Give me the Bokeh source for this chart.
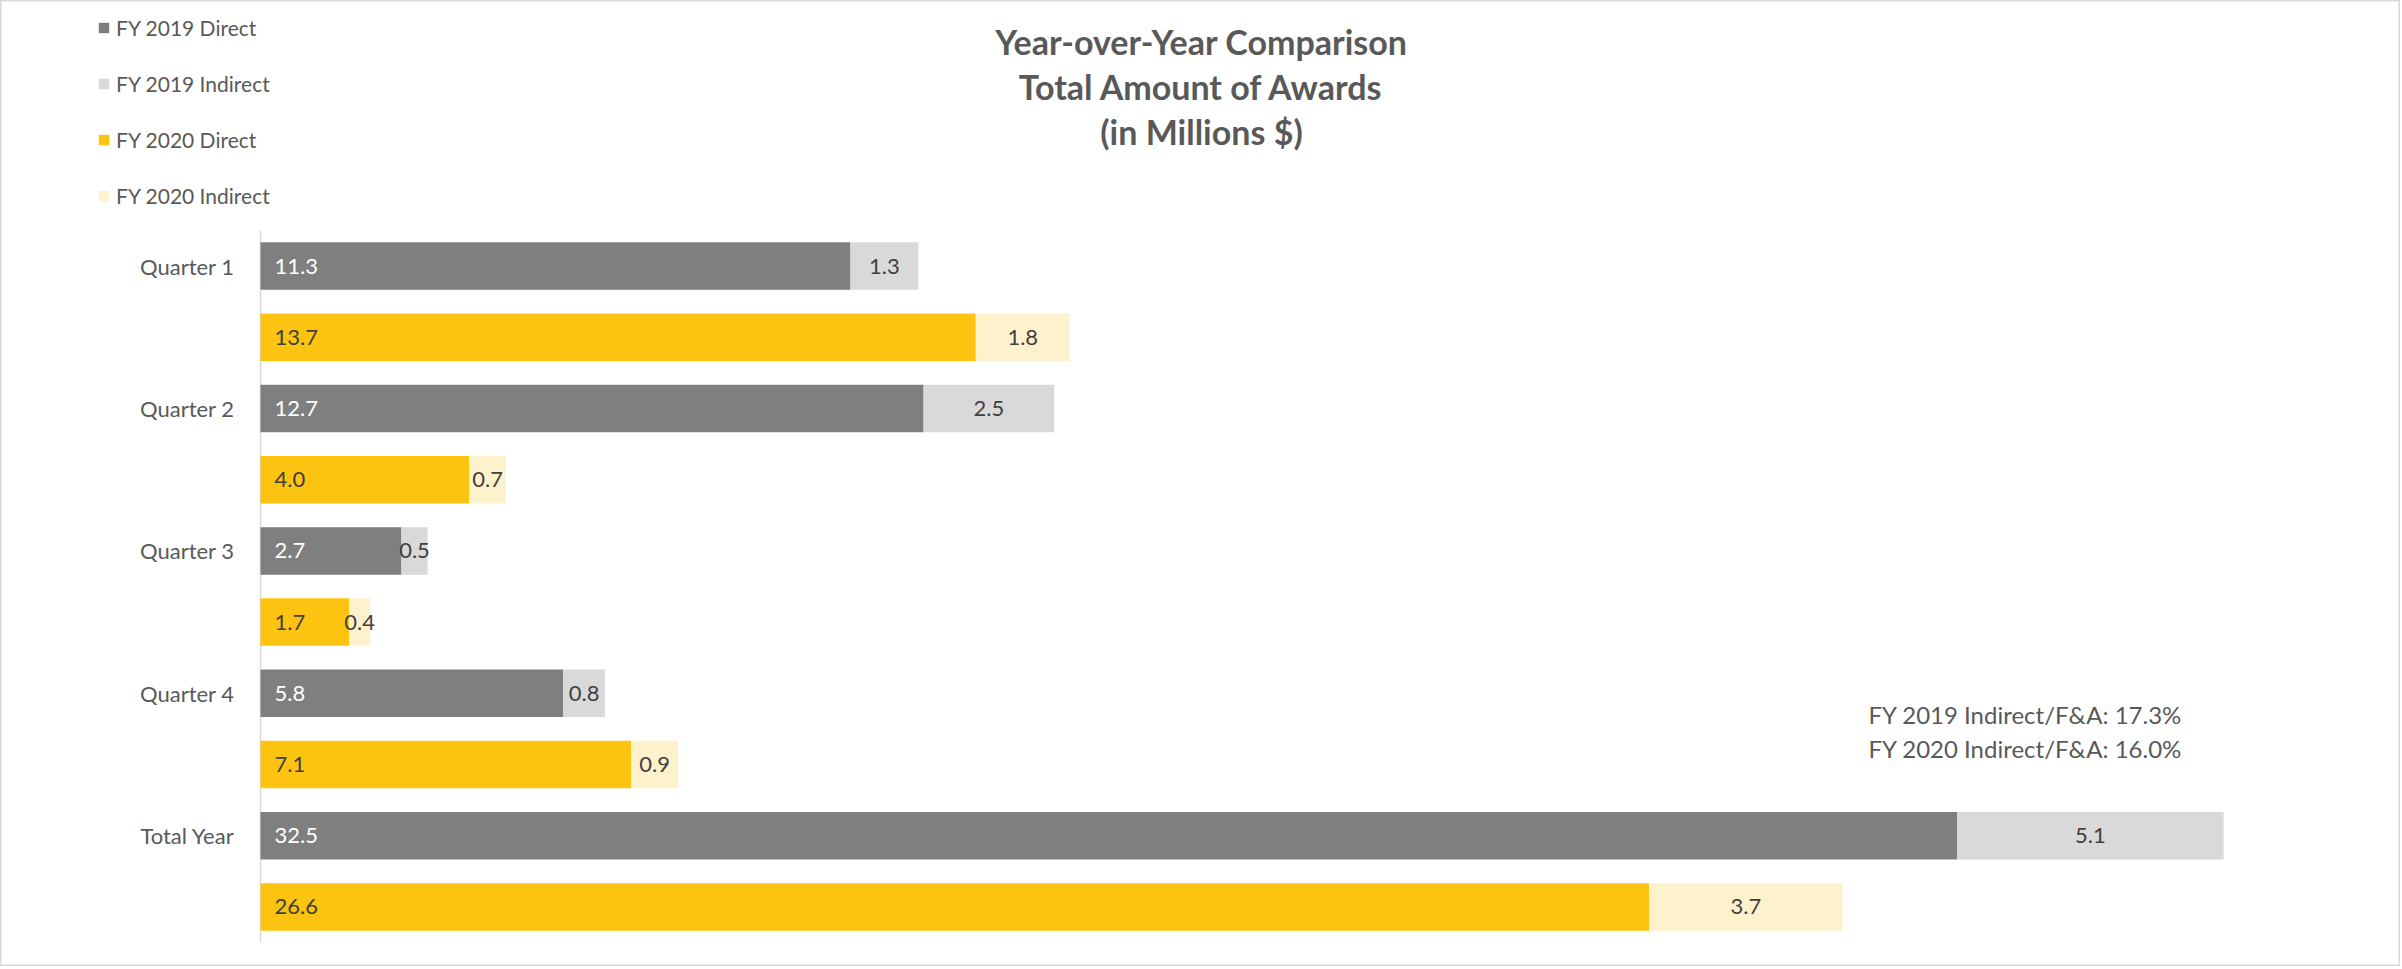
from bokeh.plotting import figure
from bokeh.models import ColumnDataSource, Range1d, Legend, LegendItem, Label
from bokeh.core.properties import value
from bokeh.embed import file_html
from bokeh.resources import INLINE

categories = ["Quarter 1", "Quarter 2", "Quarter 3", "Quarter 4", "Total Year"]
fy2019_direct = [11.3, 12.7, 2.7, 5.8, 32.5]
fy2019_indirect = [1.3, 2.5, 0.5, 0.8, 5.1]
fy2020_direct = [13.7, 4.0, 1.7, 7.1, 26.6]
fy2020_indirect = [1.8, 0.7, 0.4, 0.9, 3.7]
title_lines = ["Year-over-Year Comparison", "Total Amount of Awards", "(in Millions $)"]
notes = ["FY 2019 Indirect/F&A: 17.3%", "FY 2020 Indirect/F&A: 16.0%"]

C19D, C19I, C20D, C20I = "#7f7f7f", "#d9d9d9", "#fcc410", "#fef2cc"
TXT = "#595959"
FONT = "Lato"

n = len(categories)
nrows = 2 * n
y19 = [nrows - (2 * i + 0.5) for i in range(n)]
y20 = [nrows - (2 * i + 1.5) for i in range(n)]

def src(y, d, ind):
    return ColumnDataSource(dict(
        y=y, d=d, ind=ind,
        tot=[a + b for a, b in zip(d, ind)],
        mid=[a + b / 2 for a, b in zip(d, ind)],
        dlab=[f"{v:.1f}" for v in d],
        ilab=[f"{v:.1f}" for v in ind],
    ))

s19 = src(y19, fy2019_direct, fy2019_indirect)
s20 = src(y20, fy2020_direct, fy2020_indirect)
scat = ColumnDataSource(dict(y=y19, name=categories))

W, H = 2400, 966
X0, PXU = 260, 52.21      # axis pixel, px per unit
YT, YB = 230, 942         # axis top / bottom pixels
PYU = (YB - YT) / nrows
p = figure(width=W, height=H, output_backend="svg", toolbar_location=None,
           x_range=Range1d(-X0 / PXU, (W - X0) / PXU),
           y_range=Range1d(-(H - YB) / PYU, nrows + YT / PYU),
           min_border=0)
p.xaxis.visible = False
p.yaxis.visible = False
p.xgrid.visible = False
p.ygrid.visible = False
p.outline_line_color = "#d9d9d9"
p.outline_line_width = 2
p.background_fill_color = "white"
p.border_fill_color = "white"

# value axis line
p.segment(x0=0, y0=0, x1=0, y1=nrows, line_color="#d9d9d9", line_width=1.5)

BH = 0.667
r19d = p.hbar(y="y", left=0, right="d", height=BH, source=s19, fill_color=C19D, line_color=None)
r19i = p.hbar(y="y", left="d", right="tot", height=BH, source=s19, fill_color=C19I, line_color=None)
r20d = p.hbar(y="y", left=0, right="d", height=BH, source=s20, fill_color=C20D, line_color=None)
r20i = p.hbar(y="y", left="d", right="tot", height=BH, source=s20, fill_color=C20I, line_color=None)

common = dict(text_font=value(FONT), text_font_size="22px", text_baseline="middle")
p.text(x=0, y="y", text="dlab", source=s19, x_offset=14, text_color="white", text_align="left", **common)
p.text(x=0, y="y", text="dlab", source=s20, x_offset=14, text_color="#404040", text_align="left", **common)
p.text(x="mid", y="y", text="ilab", source=s19, text_color="#404040", text_align="center", **common)
p.text(x="mid", y="y", text="ilab", source=s20, text_color="#404040", text_align="center", **common)

# category labels
p.text(x=0, y="y", text="name", source=scat, x_offset=-26, text_color=TXT, text_align="right", **common)

legend = Legend(items=[
    LegendItem(label="FY 2019 Direct", renderers=[r19d]),
    LegendItem(label="FY 2019 Indirect", renderers=[r19i]),
    LegendItem(label="FY 2020 Direct", renderers=[r20d]),
    LegendItem(label="FY 2020 Indirect", renderers=[r20i]),
], location=(97, 756), orientation="vertical", padding=0, margin=0, spacing=26,
    glyph_width=13, glyph_height=13, label_height=30, label_standoff=6,
    label_text_font=FONT, label_text_font_size="21px", label_text_color=TXT,
    border_line_color=None, background_fill_alpha=0)
p.add_layout(legend, "center")

for txt, yy in zip(title_lines, [925, 880, 835]):
    p.add_layout(Label(x=1201, y=yy, x_units="screen", y_units="screen", text=txt,
                       text_font=FONT, text_font_style="bold", text_font_size="34px",
                       text_color=TXT, text_align="center", text_baseline="middle"))

for txt, yy in zip(notes, [252, 218]):
    p.add_layout(Label(x=1868, y=yy, x_units="screen", y_units="screen", text=txt,
                       text_font=FONT, text_font_size="24px",
                       text_color=TXT, text_align="left", text_baseline="middle"))

open("out.html", "w").write(file_html(p, INLINE))
